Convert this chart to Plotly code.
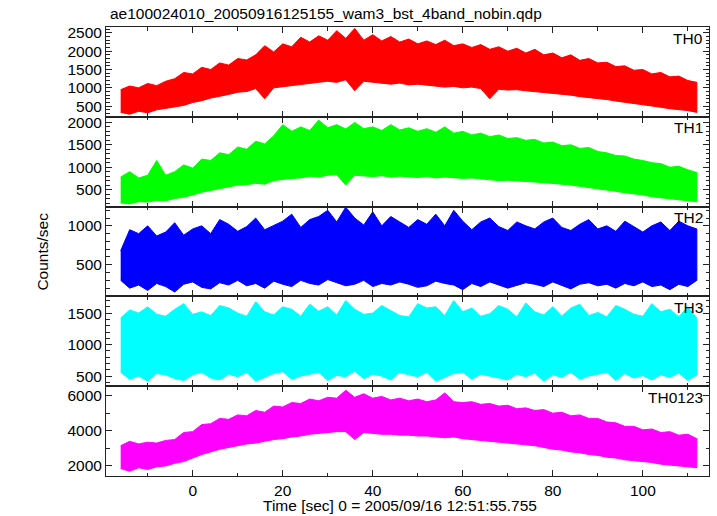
import plotly.graph_objects as go
from plotly.subplots import make_subplots

# time grid of the envelope readings (s), one reading every 2 s
time_s = [-16 + 2 * i for i in range(65)]

# upper / lower envelopes of each band (counts/sec)
th0_hi = [950, 1050, 1000, 1120, 1060, 1180, 1250, 1420, 1380, 1560, 1500, 1680, 1620, 1800, 1760, 1900,
          2150, 1980, 2200, 2120, 2380, 2250, 2420, 2300, 2560, 2350, 2620, 2300, 2450, 2280, 2400, 2250,
          2330, 2200, 2280, 2180, 2300, 2150, 2200, 2100, 2180, 2050, 2120, 2000, 2080, 1950, 2050, 1900,
          1950, 1820, 1900, 1750, 1800, 1680, 1700, 1580, 1600, 1480, 1500, 1380, 1420, 1300, 1320, 1200, 1150]
th0_lo = [330, 280, 360, 320, 400, 430, 480, 520, 600, 650, 720, 780, 820, 880, 900, 980,
          700, 1000, 1030, 1060, 1090, 1120, 1150, 1180, 1150, 1220, 920, 1180, 1150, 1120, 1100, 1130,
          1080, 1100, 1060, 1050, 1020, 1040, 1000, 1020, 980, 700, 960, 940, 950, 920, 900, 880,
          850, 820, 800, 760, 740, 700, 680, 640, 600, 560, 540, 500, 470, 430, 400, 380, 330]

th1_hi = [780, 900, 760, 820, 1150, 820, 900, 1050, 980, 1180, 1150, 1320, 1280, 1450, 1400, 1580,
          1520, 1700, 1950, 1800, 1900, 1820, 2050, 1880, 1950, 1850, 2000, 1860, 1900, 1820, 1950, 1830,
          1880, 1800, 1860, 1780, 1900, 1760, 1800, 1720, 1760, 1680, 1720, 1640, 1660, 1600, 1620, 1540,
          1560, 1480, 1500, 1420, 1440, 1350, 1320, 1260, 1250, 1180, 1150, 1100, 1080, 1000, 1020, 940, 880]
th1_lo = [200, 180, 230, 220, 260, 250, 300, 330, 380, 440, 480, 520, 560, 600, 610, 640,
          620, 700, 720, 750, 760, 800, 780, 820, 830, 600, 820, 800, 790, 810, 780, 800,
          790, 770, 790, 760, 780, 770, 750, 760, 730, 720, 700, 710, 690, 680, 670, 650,
          640, 620, 600, 580, 550, 520, 490, 460, 430, 400, 380, 340, 320, 290, 270, 250, 230]

th2_hi = [680, 950, 900, 1000, 870, 920, 1040, 880, 960, 1000, 900, 1080, 1020, 930, 990, 1100,
          950, 1000, 1060, 1150, 980, 1080, 1120, 1200, 1050, 1240, 1100, 1010, 1180, 1000, 1120, 1050,
          980, 1080, 1020, 1150, 1000, 1200, 1060, 950, 1050, 1100, 990, 940, 1050, 1000, 960, 1050,
          1100, 980, 940, 1020, 1080, 960, 1000, 930, 1060, 990, 920, 1000, 1050, 940, 1060, 1000, 960]
th2_lo = [300, 200, 240, 170, 260, 220, 150, 250, 280, 210, 190, 270, 240, 300, 230, 260,
          200, 290, 250, 220, 300, 260, 240, 310, 270, 230, 250, 300, 220, 260, 240, 280,
          250, 210, 230, 290, 260, 240, 180, 260, 220, 280, 240, 200, 230, 270, 250, 220,
          280, 230, 190, 250, 270, 230, 250, 200, 260, 230, 280, 220, 240, 180, 250, 220, 300]

th3_hi = [1420, 1550, 1500, 1600, 1480, 1450, 1560, 1650, 1480, 1520, 1460, 1620, 1580, 1500, 1450, 1680,
          1520, 1470, 1600, 1560, 1450, 1640, 1530, 1600, 1470, 1700, 1560, 1480, 1500, 1620, 1540, 1460,
          1440, 1650, 1580, 1600, 1460, 1700, 1520, 1580, 1450, 1490, 1620, 1560, 1440, 1660, 1520, 1470,
          1600, 1450, 1580, 1640, 1460, 1510, 1440, 1620, 1560, 1480, 1450, 1650, 1520, 1560, 1440, 1600, 1420]
th3_lo = [560, 450, 500, 420, 540, 520, 460, 430, 520, 560, 470, 440, 530, 490, 560, 420,
          480, 540, 570, 450, 500, 530, 560, 430, 510, 490, 580, 460, 530, 500, 440, 560,
          520, 490, 560, 420, 480, 540, 560, 450, 530, 500, 470, 440, 530, 490, 550, 420,
          520, 480, 560, 450, 500, 530, 560, 430, 540, 470, 510, 440, 520, 480, 550, 430, 520]

th0123_hi = [3150, 3400, 3250, 3350, 3300, 3450, 3500, 3900, 3950, 4350, 4400, 4700, 4650, 4900, 4850, 5150,
             5050, 5400, 5350, 5600, 5550, 5800, 5700, 5900, 5850, 6300, 5900, 6100, 5850, 5950, 5750, 5850,
             5700, 5800, 5650, 5750, 6150, 5650, 5600, 5650, 5500, 5550, 5400, 5450, 5250, 5300, 5150, 5200,
             5000, 5050, 4850, 4900, 4700, 4700, 4500, 4450, 4250, 4250, 4050, 4100, 3900, 3950, 3750, 3800, 3550]
th0123_lo = [1850, 1700, 1900, 1800, 1950, 2000, 2150, 2250, 2450, 2650, 2800, 2950, 3050, 3150, 3250, 3300,
             3400, 3500, 3550, 3650, 3700, 3800, 3850, 3900, 3950, 3950, 3500, 3900, 3850, 3800, 3800, 3750,
             3750, 3700, 3700, 3650, 3600, 3650, 3550, 3500, 3450, 3400, 3350, 3300, 3250, 3200, 3150, 3050,
             2950, 2900, 2800, 2750, 2650, 2600, 2500, 2450, 2350, 2300, 2250, 2200, 2100, 2050, 2000, 1950, 1900]

band_names = ["TH0", "TH1", "TH2", "TH3", "TH0123"]
band_hi = [th0_hi, th1_hi, th2_hi, th3_hi, th0123_hi]
band_lo = [th0_lo, th1_lo, th2_lo, th3_lo, th0123_lo]
band_colors = ["#ff0000", "#00ff00", "#0000ff", "#00ffff", "#ff00ff"]
y_ranges = [[210, 2660], [120, 2125], [94, 1247], [340, 1765], [1430, 6530]]
y_dticks = [500, 500, 500, 500, 2000]
y_minor = [100, 100, 100, 100, 1000]
x_tickvals = [0, 20, 40, 60, 80, 100]

FONT = "Liberation Sans, Arial, Helvetica, sans-serif"
AX = "#222222"

fig = make_subplots(rows=5, cols=1, shared_xaxes=True, vertical_spacing=0)

for k in range(5):
    xs = time_s + time_s[::-1]
    ys = band_hi[k] + band_lo[k][::-1]
    fig.add_trace(go.Scatter(x=xs, y=ys, mode="lines", fill="toself",
                             fillcolor=band_colors[k],
                             line=dict(color=band_colors[k], width=1),
                             showlegend=False, hoverinfo="skip"), row=k + 1, col=1)
    fig.update_yaxes(range=y_ranges[k], dtick=y_dticks[k], tick0=0,
                     showline=True, linecolor=AX, linewidth=1, mirror="ticks",
                     ticks="inside", ticklen=6, tickcolor=AX, tickwidth=1,
                     minor=dict(dtick=y_minor[k], ticks="inside", ticklen=3.5, tickcolor=AX),
                     showgrid=False, zeroline=False,
                     tickfont=dict(family=FONT, size=15.5, color="black"),
                     row=k + 1, col=1)
    fig.update_xaxes(range=[-19.26, 114.7], tickvals=x_tickvals,
                     showline=True, linecolor=AX, linewidth=1, mirror="ticks",
                     ticks="inside", ticklen=6, tickcolor=AX, tickwidth=1,
                     minor=dict(dtick=10, tick0=0, ticks="inside", ticklen=3.5, tickcolor=AX),
                     showgrid=False, zeroline=False,
                     showticklabels=(k == 4),
                     tickfont=dict(family=FONT, size=15.5, color="black"),
                     row=k + 1, col=1)
    fig.add_annotation(text=band_names[k], xref="paper", yref="paper",
                       x=0.9934, y=1 - 0.2 * k - 0.0245, xanchor="right", yanchor="middle",
                       showarrow=False, font=dict(family=FONT, size=15.5, color="black"))

fig.add_annotation(text="ae100024010_20050916125155_wam3_bst_4band_nobin.qdp",
                   xref="paper", yref="paper", x=0.003, y=1.031, xanchor="left", yanchor="middle",
                   showarrow=False, font=dict(family=FONT, size=15.5, color="black"))
fig.add_annotation(text="Time [sec] 0 = 2005/09/16 12:51:55.755",
                   xref="paper", yref="paper", x=0.487, y=-0.0646, xanchor="center", yanchor="middle",
                   showarrow=False, font=dict(family=FONT, size=15.5, color="black"))
fig.add_annotation(text="Counts/sec", textangle=-90,
                   xref="paper", yref="paper", x=-0.106, y=0.5, xanchor="center", yanchor="middle",
                   showarrow=False, font=dict(family=FONT, size=15.5, color="black"))

fig.update_layout(width=717, height=516, margin=dict(l=106, r=8, t=27, b=40),
                  paper_bgcolor="white", plot_bgcolor="white",
                  font=dict(family=FONT, size=15.5, color="black"))

fig.write_html("out.html", config={"displayModeBar": False},
               post_script="document.body.style.margin='0';document.body.style.overflow='hidden';")
